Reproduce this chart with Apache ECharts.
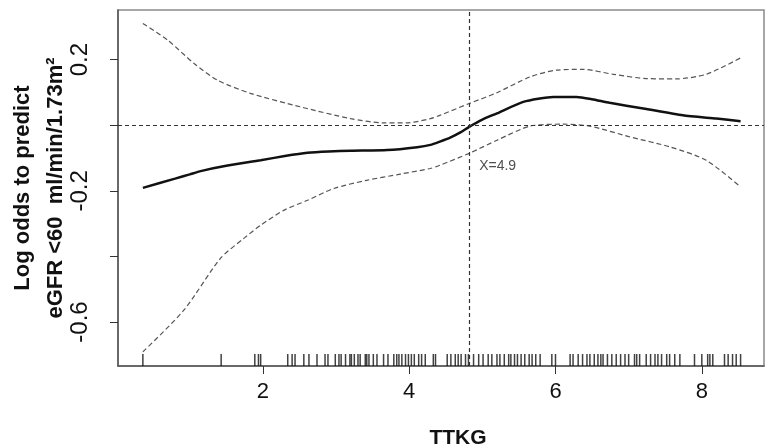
<!DOCTYPE html>
<html>
<head>
<meta charset="utf-8">
<script src="https://cdn.jsdelivr.net/npm/echarts@6/dist/echarts.min.js"></script>
<style>
  html, body { margin: 0; padding: 0; background: #fff; }
  #chart { width: 774px; height: 447px; }
</style>
</head>
<body>
<div id="chart"></div>
<script>
// fitted spline (solid) and its confidence band (dashed)
var fitX = [0.36, 0.8, 1.0, 1.15, 1.5, 1.97, 2.3, 2.61, 2.9, 3.2, 3.7, 4.11, 4.29, 4.42, 4.56, 4.7, 4.82, 5.0, 5.2, 5.56, 5.97, 6.29, 6.5, 6.74, 7.2, 7.74, 8.2, 8.53]
var fitY = [-0.191, -0.163, -0.150, -0.140, -0.124, -0.107, -0.094, -0.084, -0.080, -0.078, -0.076, -0.067, -0.060, -0.050, -0.038, -0.022, -0.005, 0.017, 0.036, 0.071, 0.086, 0.086, 0.079, 0.068, 0.051, 0.030, 0.020, 0.012]

var upperX = [0.36, 0.7, 1.06, 1.38, 1.83, 2.51, 3.2, 3.65, 3.97, 4.29, 4.42, 4.82, 5.2, 5.65, 6.02, 6.38, 6.79, 7.24, 7.65, 8.06, 8.53]
var upperY = [0.310, 0.259, 0.188, 0.137, 0.097, 0.056, 0.020, 0.007, 0.007, 0.020, 0.030, 0.066, 0.099, 0.147, 0.168, 0.170, 0.155, 0.142, 0.141, 0.155, 0.205]

var lowerX = [0.36, 0.92, 1.42, 1.74, 1.97, 2.29, 2.61, 2.97, 3.42, 3.88, 4.29, 4.42, 4.82, 5.2, 5.65, 6.11, 6.47, 7.02, 7.56, 8.06, 8.53]
var lowerY = [-0.691, -0.564, -0.406, -0.345, -0.305, -0.259, -0.229, -0.193, -0.168, -0.149, -0.132, -0.122, -0.086, -0.046, -0.003, 0.003, -0.003, -0.036, -0.066, -0.107, -0.188]

// observed TTKG values (rug)
var rugX = [0.36, 1.43, 1.89, 1.94, 1.97, 2.34, 2.40, 2.44, 2.56, 2.63, 2.74, 2.85, 2.89, 2.99, 3.04, 3.07, 3.13, 3.19, 3.21, 3.25, 3.30, 3.33, 3.40, 3.42, 3.45, 3.51, 3.56,
  3.65, 3.71, 3.79, 3.83, 3.86, 3.90, 3.95, 3.99, 4.03, 4.07, 4.13, 4.17, 4.22, 4.33, 4.36, 4.52, 4.57, 4.63, 4.67, 4.71, 4.77, 4.81, 4.88, 4.95, 5.01, 5.08, 5.13, 5.20,
  5.24, 5.30, 5.36, 5.39, 5.44, 5.48, 5.53, 5.58, 5.64, 5.68, 5.73, 5.79, 5.95, 6.00, 6.20, 6.24, 6.31, 6.37, 6.43, 6.47, 6.53, 6.58, 6.62, 6.65, 6.71, 6.77, 6.83,
  6.89, 6.95, 7.00, 7.08, 7.11, 7.15, 7.24, 7.30, 7.36, 7.40, 7.45, 7.52, 7.56, 7.63, 7.70, 7.90, 8.00, 8.08, 8.11, 8.15, 8.31, 8.36, 8.42, 8.47, 8.53]

var xTicks = [2, 4, 6, 8]
var yTicks = [-0.6, -0.4, -0.2, 0, 0.2]
var yLabels = [-0.6, -0.2, 0.2]
var cutX = 4.82
var cutLabel = 'X=4.9'

var xMin = 0.02, xMax = 8.85
var yMin = -0.734, yMax = 0.351

function pairs(xs, ys) {
    return xs.map(function (x, i) { return [x, ys[i]] })
}

var myChart = echarts.init(document.getElementById('chart'))

var bandStyle = { color: '#555', width: 1.2, type: [5, 3] }

myChart.setOption({
    animation: false,
    grid: {
        left: 118, top: 10, right: 10, bottom: 81,
        outerBoundsMode: 'none',
        containLabel: false,
        show: true, borderColor: '#8a8a8a', borderWidth: 1.5, backgroundColor: '#fff'
    },
    xAxis: {
        type: 'value',
        min: xMin,
        max: xMax,
        name: 'TTKG',
        nameLocation: 'middle',
        nameGap: 62,
        nameTextStyle: { fontFamily: 'Liberation Sans', fontWeight: 'bold', fontSize: 21, color: '#111', padding: [0, 0, 0, 34] },
        splitLine: { show: false },
        axisLine: { onZero: false, lineStyle: { color: '#555', width: 1.5 } },
        axisTick: { customValues: xTicks, length: 8, lineStyle: { color: '#333' } },
        axisLabel: { customValues: xTicks, margin: 15, fontFamily: 'Liberation Sans', fontSize: 22, color: '#111' }
    },
    yAxis: {
        type: 'value',
        min: yMin,
        max: yMax,
        name: 'Log odds to predict\neGFR <60  ml/min/1.73m²',
        nameLocation: 'middle',
        nameRotate: 90,
        nameGap: 46,
        nameMoveOverlap: false,
        nameTextStyle: { fontFamily: 'Liberation Sans', fontWeight: 'bold', fontSize: 22, color: '#111', lineHeight: 33 },
        splitLine: { show: false },
        axisLine: { onZero: false, lineStyle: { color: '#555', width: 1.5 } },
        axisTick: { customValues: yTicks, length: 8, lineStyle: { color: '#333' } },
        axisLabel: { customValues: yLabels, rotate: 90, margin: 26, fontFamily: 'Liberation Sans', fontSize: 24, color: '#111' }
    },
    series: [
        {
            name: 'upper',
            type: 'line',
            data: pairs(upperX, upperY),
            smooth: 0.25,
            showSymbol: false,
            lineStyle: bandStyle
        },
        {
            name: 'lower',
            type: 'line',
            data: pairs(lowerX, lowerY),
            smooth: 0.25,
            showSymbol: false,
            lineStyle: bandStyle
        },
        {
            name: 'fit',
            type: 'line',
            data: pairs(fitX, fitY),
            smooth: 0.2,
            showSymbol: false,
            lineStyle: { color: '#111', width: 2.5 },
            markLine: {
                silent: true,
                symbol: 'none',
                label: { show: false },
                lineStyle: { color: '#333', width: 1.2, type: [4, 3] },
                data: [{ yAxis: 0 }, { xAxis: cutX }]
            }
        },
        {
            name: 'cut',
            type: 'scatter',
            data: [[cutX, -0.125]],
            symbolSize: 0,
            label: {
                show: true,
                position: 'right',
                distance: 10,
                formatter: cutLabel,
                fontFamily: 'Liberation Sans',
                fontSize: 14,
                color: '#222'
            }
        },
        {
            name: 'rug',
            type: 'scatter',
            data: rugX.map(function (x) { return [x, yMin] }),
            symbol: 'rect',
            symbolSize: [1.5, 12],
            symbolOffset: [0, -6],
            itemStyle: { color: '#111' },
            clip: false
        }
    ]
})
</script>
</body>
</html>
